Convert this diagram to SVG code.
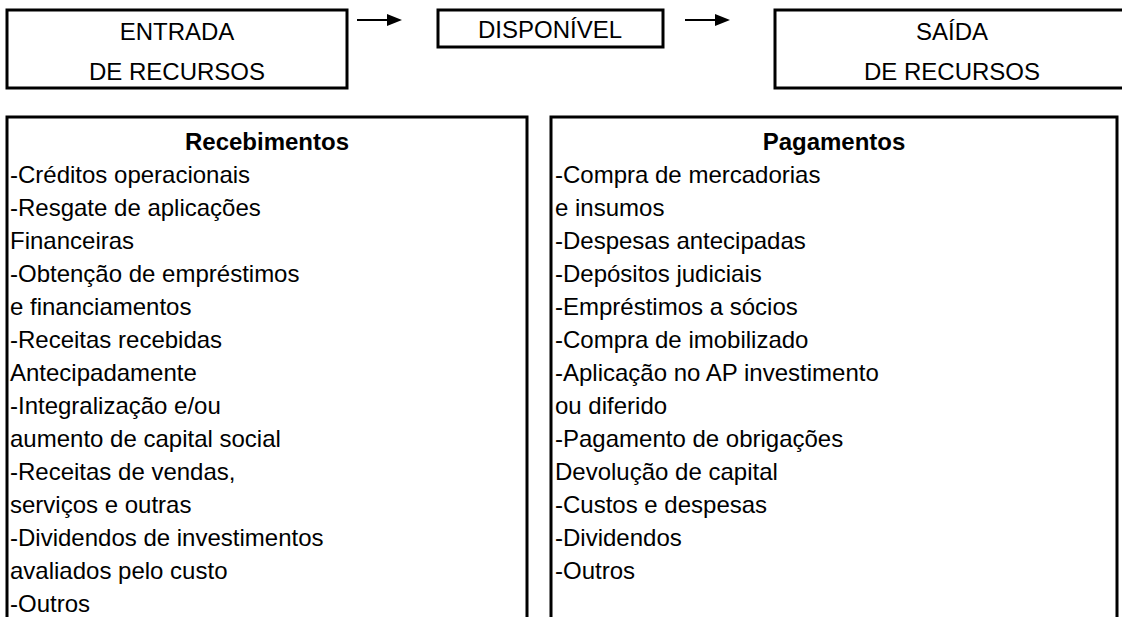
<svg xmlns="http://www.w3.org/2000/svg" width="1122" height="617" viewBox="0 0 1122 617">
<defs>
<style>
.box{fill:none;stroke:#000;stroke-width:3}
.t{font-family:"Liberation Sans",Arial,sans-serif;font-size:24px;fill:#000}
.c{text-anchor:middle}
.b{font-weight:bold}
.ln{stroke:#000;stroke-width:2;fill:none}
.hd{fill:#000;stroke:none}
</style>
</defs>
<rect width="1122" height="617" fill="#fff"/>
<g id="entrada">
<rect class="box" x="7" y="10" width="340" height="78"/>
<text class="t c" x="177" y="40">ENTRADA</text>
<text class="t c" x="177" y="80">DE RECURSOS</text>
</g>
<g id="disponivel">
<rect class="box" x="438" y="10" width="225" height="37"/>
<text class="t c" x="550" y="38">DISPONÍVEL</text>
</g>
<g id="saida">
<rect class="box" x="775" y="10" width="360" height="78"/>
<text class="t c" x="952" y="40">SAÍDA</text>
<text class="t c" x="952" y="80">DE RECURSOS</text>
</g>
<g id="connectors">
<line class="ln" x1="357" y1="20" x2="390" y2="20"/>
<polygon class="hd" points="387,14 402,20 387,26"/>
<line class="ln" x1="685" y1="20" x2="718" y2="20"/>
<polygon class="hd" points="715,14 730,20 715,26"/>
</g>
<g id="recebimentos">
<path class="box" d="M7,617 V117 H527 V617"/>
<text class="t c b" x="267" y="150">Recebimentos</text>
<text class="t" x="10">
<tspan x="10" y="183">-Créditos operacionais</tspan>
<tspan x="10" y="216">-Resgate de aplicações</tspan>
<tspan x="10" y="249">Financeiras</tspan>
<tspan x="10" y="282">-Obtenção de empréstimos</tspan>
<tspan x="10" y="315">e financiamentos</tspan>
<tspan x="10" y="348">-Receitas recebidas</tspan>
<tspan x="10" y="381">Antecipadamente</tspan>
<tspan x="10" y="414">-Integralização e/ou</tspan>
<tspan x="10" y="447">aumento de capital social</tspan>
<tspan x="10" y="480">-Receitas de vendas,</tspan>
<tspan x="10" y="513">serviços e outras</tspan>
<tspan x="10" y="546">-Dividendos de investimentos</tspan>
<tspan x="10" y="579">avaliados pelo custo</tspan>
<tspan x="10" y="612">-Outros</tspan>
</text>
</g>
<g id="pagamentos">
<path class="box" d="M551,617 V117 H1117 V617"/>
<text class="t c b" x="834" y="150">Pagamentos</text>
<text class="t" x="555">
<tspan x="555" y="183">-Compra de mercadorias</tspan>
<tspan x="555" y="216">e insumos</tspan>
<tspan x="555" y="249">-Despesas antecipadas</tspan>
<tspan x="555" y="282">-Depósitos judiciais</tspan>
<tspan x="555" y="315">-Empréstimos a sócios</tspan>
<tspan x="555" y="348">-Compra de imobilizado</tspan>
<tspan x="555" y="381">-Aplicação no AP investimento</tspan>
<tspan x="555" y="414">ou diferido</tspan>
<tspan x="555" y="447">-Pagamento de obrigações</tspan>
<tspan x="555" y="480">Devolução de capital</tspan>
<tspan x="555" y="513">-Custos e despesas</tspan>
<tspan x="555" y="546">-Dividendos</tspan>
<tspan x="555" y="579">-Outros</tspan>
</text>
</g>
</svg>
